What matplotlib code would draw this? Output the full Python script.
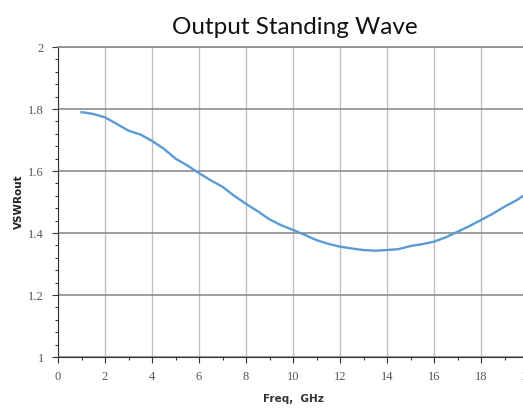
import matplotlib
matplotlib.use("Agg")
import matplotlib.pyplot as plt
from matplotlib.ticker import MultipleLocator

freq = [1.0, 1.5, 2.0, 2.5, 3.0, 3.5, 4.0, 4.5, 5.0, 5.5, 6.0, 6.5, 7.0, 7.5, 8.0,
        8.5, 9.0, 9.5, 10.0, 10.5, 11.0, 11.5, 12.0, 12.5, 13.0, 13.5, 14.0, 14.5,
        15.0, 15.5, 16.0, 16.5, 17.0, 17.5, 18.0, 18.5, 19.0, 19.5, 20.0]
vswr = [1.790, 1.784, 1.773, 1.752, 1.730, 1.718, 1.697, 1.672, 1.640, 1.618, 1.593,
        1.570, 1.549, 1.520, 1.494, 1.470, 1.444, 1.425, 1.410, 1.394, 1.377, 1.365,
        1.356, 1.350, 1.345, 1.343, 1.345, 1.348, 1.358, 1.364, 1.372, 1.386, 1.404,
        1.422, 1.442, 1.462, 1.485, 1.505, 1.530]

xticks = [0, 2, 4, 6, 8, 10, 12, 14, 16, 18, 20]
xticklabels = ["0", "2", "4", "6", "8", "10", "12", "14", "16", "18", "20"]
yticks = [1.0, 1.2, 1.4, 1.6, 1.8, 2.0]
yticklabels = ["1", "1.2", "1.4", "1.6", "1.8", "2"]

title = "Output Standing Wave"
xlabel = "Freq,  GHz"
ylabel = "VSWRout"

fig = plt.figure(figsize=(5.23, 4.08), dpi=100)
ax = fig.add_axes([58/523, 1-357/408, 470/523, 310/408])

ax.plot(freq, vswr, color="#5b9bd5", lw=1.7, zorder=3)

ax.set_xticks(xticks, xticklabels, family="Liberation Serif", fontsize=9)
ax.set_yticks(yticks, yticklabels, family="Liberation Serif", fontsize=9)
ax.xaxis.set_minor_locator(MultipleLocator(1))
ax.yaxis.set_minor_locator(MultipleLocator(0.04))
ax.set_xlim(0, 20)
ax.set_ylim(1, 2)

ax.grid(True, axis="x", which="major", color="#c0c0c0", lw=1.0)
ax.grid(True, axis="y", which="major", color="#8c8c8c", lw=1.2)

ax.spines["right"].set_visible(False)
ax.spines["top"].set_color("#8c8c8c")
ax.spines["top"].set_linewidth(1.2)
ax.spines["left"].set_color("#333333")
ax.spines["bottom"].set_color("#333333")

ax.tick_params(axis="both", which="major", length=4, width=0.8, color="#333333",
               labelcolor="#555555", pad=6)
ax.tick_params(axis="both", which="minor", length=2.5, width=0.8, color="#333333")

ax.set_xlabel(xlabel, fontsize=7.5, fontweight="bold", color="#333333", labelpad=8)
ax.set_ylabel(ylabel, fontsize=7.5, fontweight="bold", color="#222222", labelpad=0)
ax.yaxis.set_label_coords(-(58 - 24) / 470, 0.5)

fig.text(295/523, 1-27/408, title, ha="center", va="center", fontsize=17.5,
         family="Lato", color="#111111")

fig.savefig("out.png", dpi=100)
